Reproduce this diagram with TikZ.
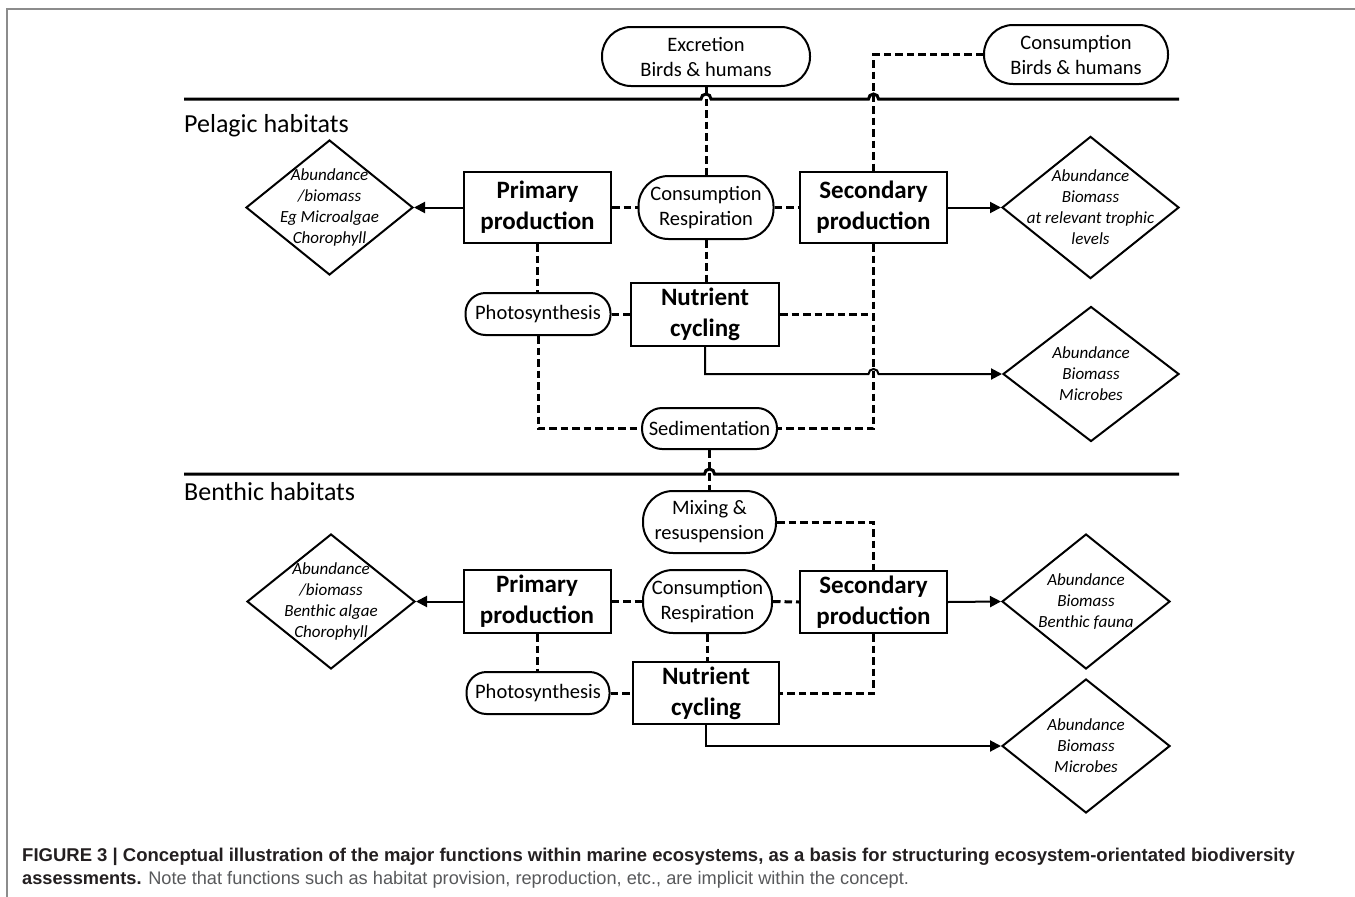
\documentclass[tikz,border=0pt]{standalone}
\usepackage{fontspec}
\setmainfont{Carlito}
\newfontfamily\capfont{Liberation Sans}
\usetikzlibrary{arrows.meta,shapes.geometric,calc}
\definecolor{capdark}{HTML}{231F20}
\definecolor{capgray}{HTML}{58595B}
\definecolor{framegray}{HTML}{8C8C8C}
\begin{document}
\begin{tikzpicture}[x=1pt,y=-1pt,
  box/.style={draw,line width=2pt,rectangle,inner sep=0pt,align=center,font=\fontsize{25}{31}\selectfont\bfseries},
  pill/.style={draw,line width=2pt,rectangle,rounded corners=#1,inner sep=0pt,align=center,font=\fontsize{20.5}{25}\selectfont},
  dia/.style={draw,line width=2pt,diamond,inner sep=-15pt,align=center,font=\fontsize{17}{21}\selectfont\itshape},
  link/.style={line width=3pt,dash pattern=on 7.5pt off 4pt},
  flow/.style={line width=2pt,-{Triangle[length=11pt,width=11pt]}},
  sepline/.style={line width=3pt},
  habitat/.style={anchor=base west,inner sep=0pt,font=\fontsize{26}{31}\selectfont}]
\useasboundingbox (0,0) rectangle (1355,897);
\fill[white] (0,0) rectangle (1355,897);
\draw[framegray,line width=1.5pt] (7,897) -- (7,9) -- (1355,9);

% ---------- Pelagic ----------
\node[pill=29,minimum width=208pt,minimum height=59pt] (exc) at (706,56.5) {Excretion\\Birds \& humans};
\node[pill=29,minimum width=184pt,minimum height=59pt] (consB) at (1076,54.5) {Consumption\\Birds \& humans};
\node[habitat] (pel) at (184,132) {Pelagic habitats};
\node[dia,minimum width=167pt,minimum height=135pt] (d1) at (329.5,207.5) {Abundance\\/biomass\\Eg Microalgae\\Chorophyll};
\node[box,minimum width=147pt,minimum height=71pt] (pp1) at (537.5,207.5) {Primary\\production};
\node[pill=30,minimum width=135pt,minimum height=63pt] (cr1) at (706,207.5) {Consumption\\Respiration};
\node[box,minimum width=147pt,minimum height=71pt] (sp1) at (873.5,207.5) {Secondary\\production};
\node[dia,minimum width=177pt,minimum height=135pt] (d2) at (1090.5,207.5) {Abundance\\Biomass\\at relevant trophic\\levels};
\node[pill=20,minimum width=145pt,minimum height=42pt] (ph1) at (538,314) {Photosynthesis};
\node[box,minimum width=148pt,minimum height=63pt] (nc1) at (705,314.5) {Nutrient\\cycling};
\node[dia,minimum width=176pt,minimum height=135pt] (d3) at (1091,374) {Abundance\\Biomass\\Microbes};
\node[pill=20,minimum width=135pt,minimum height=41pt] (sed) at (709.5,428.5) {Sedimentation};

% ---------- Benthic ----------
\node[habitat] (ben) at (184,500) {Benthic habitats};
\node[pill=30,minimum width=133pt,minimum height=62pt] (mix) at (709.5,522) {Mixing \&\\resuspension};
\node[dia,minimum width=168pt,minimum height=135pt] (d4) at (331,601.5) {Abundance\\/biomass\\Benthic algae\\Chorophyll};
\node[box,minimum width=147pt,minimum height=63pt] (pp2) at (537,601.5) {Primary\\production};
\node[pill=30,minimum width=129pt,minimum height=63pt] (cr2) at (707.5,601.5) {Consumption\\Respiration};
\node[box,minimum width=147pt,minimum height=62pt] (sp2) at (873.5,602) {Secondary\\production};
\node[dia,minimum width=168pt,minimum height=135pt] (d5) at (1086,601.5) {Abundance\\Biomass\\Benthic fauna};
\node[pill=20,minimum width=143pt,minimum height=42pt] (ph2) at (538,693) {Photosynthesis};
\node[box,minimum width=146pt,minimum height=62pt] (nc2) at (706,693) {Nutrient\\cycling};
\node[dia,minimum width=168pt,minimum height=134pt] (d6) at (1086,746) {Abundance\\Biomass\\Microbes};

% ---------- habitat separator lines (with hops) ----------
\draw[sepline] (184,99) -- ($(exc.south |- 0,99)+(-5,0)$) arc[start angle=180,end angle=360,radius=5]
  -- ($(sp1.north |- 0,99)+(-5,0)$) arc[start angle=180,end angle=360,radius=5] -- (1179,99);
\draw[sepline] (184,474) -- ($(sed.south |- 0,474)+(-5,0)$) arc[start angle=180,end angle=360,radius=5] -- (1179,474);

% ---------- pelagic connectors ----------
\draw[flow] (pp1.west) -- (d1.east);
\draw[flow] (sp1.east) -- (d2.west);
\draw[link] (pp1.east) -- (cr1.west);
\draw[link] (cr1.east) -- (sp1.west);
\draw[link] (exc.south) -- (exc.south |- cr1.north);
\draw[link] (consB.west) -| (sp1.north);
\draw[link] (cr1.south) -- (cr1.south |- nc1.north);
\draw[link] (pp1.south) -- (pp1.south |- ph1.north);
\draw[link] (ph1.east) -- (ph1.east -| nc1.west);
\draw[link] (nc1.east) -- (nc1.east -| sp1.south);
\draw[link] (sp1.south) |- (sed.east);
\draw[link] (ph1.south) |- (sed.west);
\draw[flow] (nc1.south) |- ($(sp1.south |- d3.west)+(-5,0)$) arc[start angle=180,end angle=360,radius=5] -- (d3.west);
\draw[link] (sed.south) -- (sed.south |- mix.north);

% ---------- benthic connectors ----------
\draw[flow] (pp2.west) -- (d4.east);
\draw[flow] (sp2.east) -- (d5.west);
\draw[link] (pp2.east) -- (cr2.west);
\draw[link] (cr2.east) -- (sp2.west);
\draw[link] (mix.east) -| (sp2.north);
\draw[link] (cr2.south) -- (cr2.south |- nc2.north);
\draw[link] (pp2.south) -- (pp2.south |- ph2.north);
\draw[link] (ph2.east) -- (ph2.east -| nc2.west);
\draw[link] (sp2.south) |- (nc2.east);
\draw[flow] (nc2.south) |- (d6.west);

% ---------- caption ----------
\node[anchor=base west,inner sep=0pt,text=capdark,font={\capfont\fontsize{18.5}{23}\selectfont\bfseries}] (cap1) at (22,861)
  {FIGURE 3 | Conceptual illustration of the major functions within marine ecosystems, as a basis for structuring ecosystem-orientated biodiversity};
\node[anchor=base west,inner sep=0pt,text=capgray,font={\capfont\fontsize{18.2}{23}\selectfont}] (cap2) at (22,884)
  {\textcolor{capdark}{\bfseries assessments.} Note that functions such as habitat provision, reproduction, etc., are implicit within the concept.};
\end{tikzpicture}
\end{document}
